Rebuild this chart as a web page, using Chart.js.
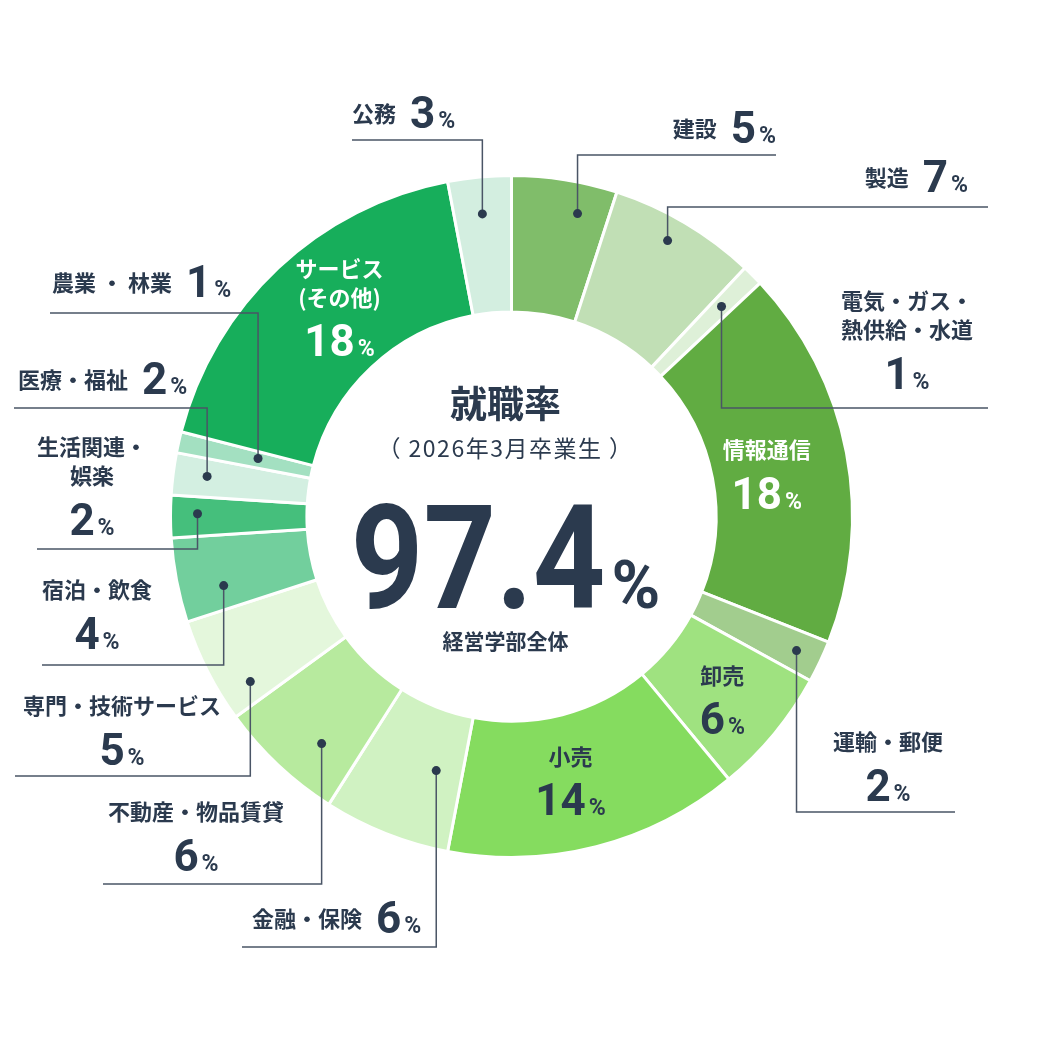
<!DOCTYPE html>
<html>
<head>
<meta charset="utf-8">
<script src="https://cdn.jsdelivr.net/npm/chart.js@4"></script>
<style>
  html, body { margin: 0; padding: 0; background: #fff; }
  canvas { display: block; }
</style>
</head>
<body>
<canvas id="grafico" width="1042" height="1042"></canvas>
<script>
// datos (orden horario desde las 12)
const categorias = ['建設', '製造', '電気・ガス・熱供給・水道', '情報通信', '運輸・郵便', '卸売', '小売',
  '金融・保険', '不動産・物品賃貸', '専門・技術サービス', '宿泊・飲食', '生活関連・娯楽',
  '医療・福祉', '農業・林業', 'サービス(その他)', '公務'];
const porcentajes = [5, 7, 1, 18, 2, 6, 14, 6, 6, 5, 4, 2, 2, 1, 18, 3];
const colores = ['#80bd6a', '#c1dfb5', '#def0d8', '#61ac42', '#a2cd8e', '#9fe280', '#85dc5f',
  '#d0f2c2', '#b7ea9e', '#e4f7dc', '#72cf9d', '#45bf7c', '#d3efe1', '#a3e0c1', '#17ae5b', '#d3eee0'];
// texto de cada etiqueta (lineas)
const textos = [['建設'], ['製造'], ['電気・ガス・', '熱供給・水道'], ['情報通信'], ['運輸・郵便'], ['卸売'], ['小売'],
  ['金融・保険'], ['不動産・物品賃貸'], ['専門・技術サービス'], ['宿泊・飲食'], ['生活関連・', '娯楽'],
  ['医療・福祉'], ['農業 ・ 林業'], ['サービス', '(その他)'], ['公務']];

const tituloCentro = '就職率';
const subtituloCentro = '（ 2026年3月卒業生 ）';
const tasaTotal = '97.4';
const pieCentro = '経営学部全体';

const JP = '"Noto Sans CJK JP", sans-serif';
const NUM = 'Roboto, sans-serif';
const TINTA = '#2b3a4e';
const LINEA = '#4a5566';

// layout de etiquetas: da = desplazamiento de angulo (grados), r = radio del punto
const layoutEtiquetas = [
  { tipo: 'fuera', da: 3.3, r: 310, lineaY: 155, lineaX: 776, modo: 'derecha', x: 776, base: 143 },
  { tipo: 'fuera', da: -1.1, r: 317, lineaY: 207, lineaX: 988, modo: 'derecha', x: 968, base: 192 },
  { tipo: 'fuera', da: 0, r: 297, lineaY: 408, lineaX: 988, modo: 'centro', x: 907, y: 301 },
  { tipo: 'dentro', da: -3.9, r: 264, color: '#ffffff' },
  { tipo: 'fuera', da: 0, r: 315, lineaY: 812, lineaX: 955, modo: 'centro', x: 888, y: 742 },
  { tipo: 'dentro', da: -2.6, r: 264, color: TINTA },
  { tipo: 'dentro', da: 0.6, r: 247, color: TINTA },
  { tipo: 'fuera', da: -5.1, r: 265, lineaY: 947, lineaX: 242, modo: 'izquierda', x: 252, base: 933 },
  { tipo: 'fuera', da: -3.3, r: 296, lineaY: 884, lineaX: 103, modo: 'centro', x: 196, y: 812 },
  { tipo: 'fuera', da: -5.3, r: 309, lineaY: 776, lineaX: 15, modo: 'centro', x: 122, y: 706 },
  { tipo: 'fuera', da: -2.7, r: 296, lineaY: 665, lineaX: 42, modo: 'centro', x: 97, y: 590 },
  { tipo: 'fuera', da: 0.5, r: 314, lineaY: 549, lineaX: 37, modo: 'centro', x: 92, y: 447 },
  { tipo: 'fuera', da: 0.3, r: 307, lineaY: 408, lineaX: 14, modo: 'izquierda', x: 18, base: 394 },
  { tipo: 'fuera', da: 0.3, r: 260, lineaY: 313, lineaX: 50, modo: 'izquierda', x: 52, base: 297 },
  { tipo: 'dentro', da: 8.5, r: 302, color: '#ffffff' },
  { tipo: 'fuera', da: -0.1, r: 304, lineaY: 140, lineaX: 352, modo: 'izquierda', x: 352, base: 128 }
];

const FUENTE_JP = '700 22px ' + JP;
const FUENTE_NUM = '700 44px ' + NUM;
const FUENTE_PCT = '700 23px ' + NUM;

function anchoPct(ctx, valor) {
  ctx.font = FUENTE_NUM;
  const w1 = ctx.measureText(String(valor)).width;
  ctx.font = FUENTE_PCT;
  const w2 = ctx.measureText('%').width;
  return { w1: w1, w2: w2, total: w1 + 3 + w2 };
}

function dibujaPct(ctx, valor, x, y, align, color) {
  const m = anchoPct(ctx, valor);
  let sx = x;
  if (align === 'centro') sx = x - m.total / 2;
  if (align === 'derecha') sx = x - m.total;
  ctx.fillStyle = color;
  ctx.textAlign = 'left';
  ctx.textBaseline = 'alphabetic';
  ctx.font = FUENTE_NUM;
  ctx.fillText(String(valor), sx, y);
  ctx.font = FUENTE_PCT;
  ctx.fillText('%', sx + m.w1 + 3, y);
}

function dibujaLineas(ctx, lineas, x, y, color) {
  ctx.fillStyle = color;
  ctx.font = FUENTE_JP;
  ctx.textAlign = 'center';
  ctx.textBaseline = 'middle';
  lineas.forEach(function (t, k) { ctx.fillText(t, x, y + k * 29); });
  return y + (lineas.length - 1) * 29;
}

const pluginEtiquetas = {
  id: 'etiquetas',
  afterDatasetsDraw(chart) {
    const ctx = chart.ctx;
    const arcos = chart.getDatasetMeta(0).data;
    ctx.save();
    arcos.forEach(function (arco, i) {
      const p = arco.getProps(['x', 'y', 'startAngle', 'endAngle'], true);
      const cfg = layoutEtiquetas[i];
      const ang = (p.startAngle + p.endAngle) / 2 + cfg.da * Math.PI / 180;
      const px = p.x + cfg.r * Math.cos(ang);
      const py = p.y + cfg.r * Math.sin(ang);
      const valor = porcentajes[i];

      if (cfg.tipo === 'dentro') {
        const ultima = dibujaLineas(ctx, textos[i], px, py, cfg.color);
        dibujaPct(ctx, valor, px, ultima + 59, 'centro', cfg.color);
        return;
      }

      // linea guia
      ctx.strokeStyle = LINEA;
      ctx.lineWidth = 1.5;
      ctx.beginPath();
      ctx.moveTo(px, py);
      ctx.lineTo(px, cfg.lineaY);
      ctx.lineTo(cfg.lineaX, cfg.lineaY);
      ctx.stroke();
      ctx.fillStyle = TINTA;
      ctx.beginPath();
      ctx.arc(px, py, 4.5, 0, Math.PI * 2);
      ctx.fill();

      if (cfg.modo === 'centro') {
        const ultima = dibujaLineas(ctx, textos[i], cfg.x, cfg.y, TINTA);
        dibujaPct(ctx, valor, cfg.x, ultima + 59, 'centro', TINTA);
      } else {
        ctx.font = FUENTE_JP;
        const wt = ctx.measureText(textos[i][0]).width;
        const total = wt + 14 + anchoPct(ctx, valor).total;
        const sx = cfg.modo === 'derecha' ? cfg.x - total : cfg.x;
        ctx.font = FUENTE_JP;
        ctx.fillStyle = TINTA;
        ctx.textAlign = 'left';
        ctx.textBaseline = 'middle';
        ctx.fillText(textos[i][0], sx, cfg.base - 14);
        dibujaPct(ctx, valor, sx + wt + 14, cfg.base, 'izquierda', TINTA);
      }
    });
    ctx.restore();
  }
};

const pluginCentro = {
  id: 'centro',
  afterDraw(chart) {
    const ctx = chart.ctx;
    const arco = chart.getDatasetMeta(0).data[0];
    const cx = arco.x - 6;
    const cy = arco.y;
    ctx.save();
    ctx.fillStyle = TINTA;
    ctx.textAlign = 'center';
    ctx.textBaseline = 'middle';
    ctx.font = '700 37px ' + JP;
    ctx.fillText(tituloCentro, cx, cy - 113);
    ctx.font = '400 23px ' + JP;
    ctx.letterSpacing = '1.5px';
    ctx.fillText(subtituloCentro, cx, cy - 68);
    ctx.letterSpacing = '0px';

    // numero grande
    ctx.textBaseline = 'alphabetic';
    ctx.font = '700 144px ' + NUM;
    const escala = 0.88;
    const wNum = ctx.measureText(tasaTotal).width * escala;
    ctx.font = '700 66px ' + NUM;
    const wPct = ctx.measureText('%').width;
    const inicio = cx - (wNum + 6 + wPct) / 2;
    ctx.save();
    ctx.translate(inicio, cy + 91);
    ctx.scale(escala, 1);
    ctx.font = '700 144px ' + NUM;
    ctx.textAlign = 'left';
    ctx.fillText(tasaTotal, 0, 0);
    ctx.restore();
    ctx.font = '700 66px ' + NUM;
    ctx.textAlign = 'left';
    ctx.fillText('%', inicio + wNum + 6, cy + 91);

    ctx.textAlign = 'center';
    ctx.textBaseline = 'middle';
    ctx.font = '700 21px ' + JP;
    ctx.fillText(pieCentro, cx, cy + 125);
    ctx.restore();
  }
};

const grafico = document.getElementById('grafico');
new Chart(grafico, {
  type: 'doughnut',
  data: {
    labels: categorias,
    datasets: [{
      data: porcentajes,
      backgroundColor: colores,
      borderColor: '#ffffff',
      borderWidth: 3
    }]
  },
  options: {
    responsive: false,
    animation: false,
    cutout: '60%',
    layout: { padding: { left: 169, right: 188, top: 174, bottom: 183 } },
    plugins: {
      legend: { display: false },
      tooltip: { enabled: false }
    }
  },
  plugins: [pluginEtiquetas, pluginCentro]
});
</script>
</body>
</html>
